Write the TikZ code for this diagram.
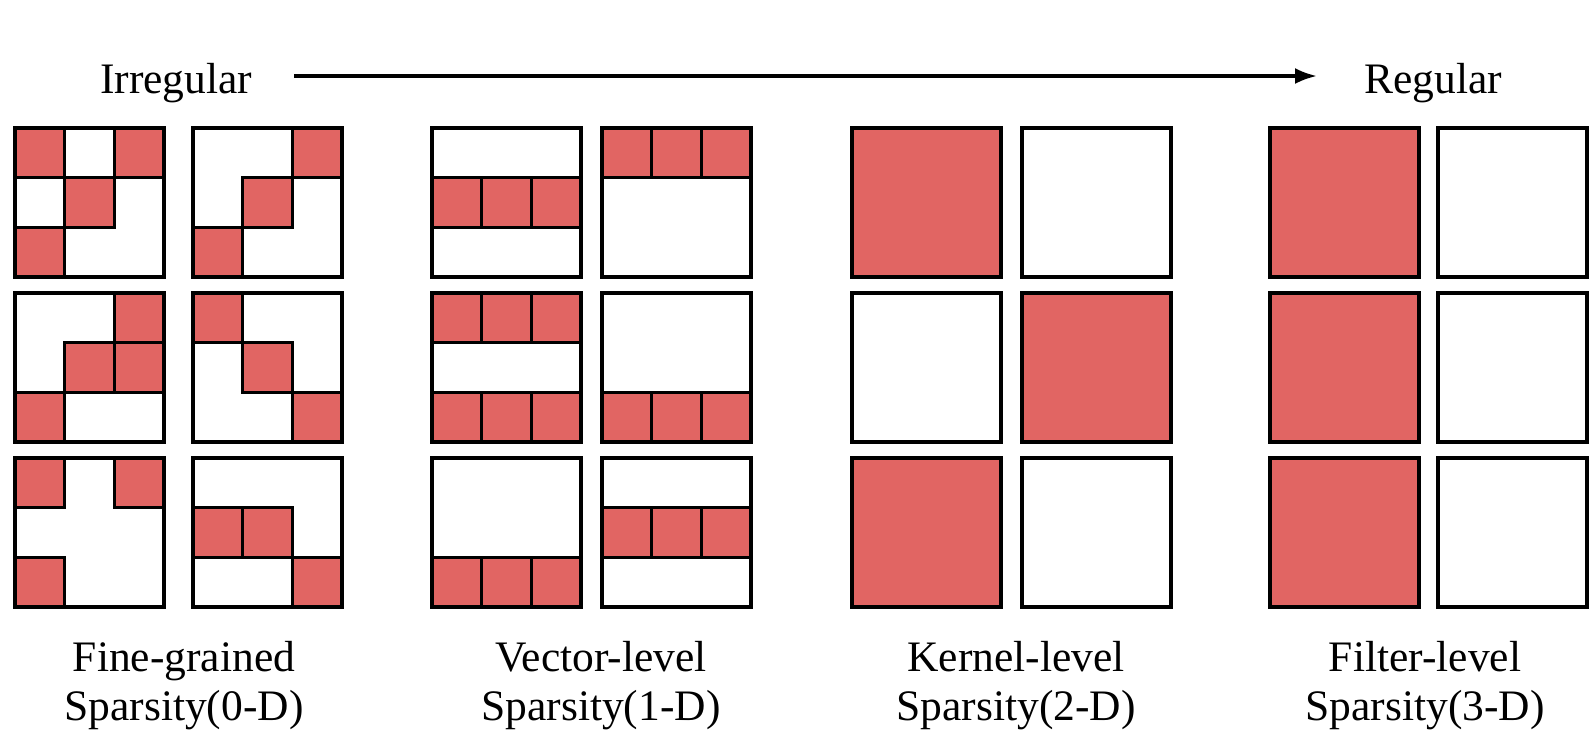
\documentclass[tikz,border=0pt]{standalone}
\usepackage{fontspec}
\setmainfont{Liberation Serif}
\usetikzlibrary{arrows.meta}
\definecolor{cellred}{RGB}{225,101,99}
\tikzset{
  lbl/.style={font=\fontsize{43.5}{43.5}\selectfont, inner sep=0pt, anchor=base},
  outerbox/.style={draw=black, line width=4.5pt},
  cellbox/.style={fill=cellred, draw=black, line width=2.8pt},
}
\newcommand{\gridbox}[3]{%
  \foreach \r/\c in {#3} {\path[cellbox] ({#1+\c*49.67},{#2+\r*49.67}) rectangle ++(49.67,49.67);}
  \draw[outerbox] (#1,#2) rectangle ++(149,149);
}
\newcommand{\solidbox}[3]{%
  \path[outerbox, fill=#3] (#1,#2) rectangle ++(149,149);
}
\begin{document}
\begin{tikzpicture}[x=1pt, y=-1pt]
\useasboundingbox[fill=white] (0,0) rectangle (1589,732);
% top arrow
\node[lbl, anchor=base west] (irr) at (100,93) {Irregular};
\node[lbl, anchor=base west] (reg) at (1364,93) {Regular};
\coordinate (a1) at (294,76);
\coordinate (a2) at (1317,76);
\draw[line width=3.5pt, -{Latex[length=22pt,width=16pt]}] (a1) -- (a2);
% Fine-grained
\gridbox{15}{128}{0/0,0/2,1/1,2/0}
\gridbox{193}{128}{0/2,1/1,2/0}
\gridbox{15}{293}{0/2,1/1,1/2,2/0}
\gridbox{193}{293}{0/0,1/1,2/2}
\gridbox{15}{458}{0/0,0/2,2/0}
\gridbox{193}{458}{1/0,1/1,2/2}
% Vector-level
\gridbox{432}{128}{1/0,1/1,1/2}
\gridbox{602}{128}{0/0,0/1,0/2}
\gridbox{432}{293}{0/0,0/1,0/2,2/0,2/1,2/2}
\gridbox{602}{293}{2/0,2/1,2/2}
\gridbox{432}{458}{2/0,2/1,2/2}
\gridbox{602}{458}{1/0,1/1,1/2}
% Kernel-level
\solidbox{852}{128}{cellred}
\solidbox{1022}{128}{white}
\solidbox{852}{293}{white}
\solidbox{1022}{293}{cellred}
\solidbox{852}{458}{cellred}
\solidbox{1022}{458}{white}
% Filter-level
\solidbox{1270}{128}{cellred}
\solidbox{1438}{128}{white}
\solidbox{1270}{293}{cellred}
\solidbox{1438}{293}{white}
\solidbox{1270}{458}{cellred}
\solidbox{1438}{458}{white}
% labels
\node[lbl] (f1) at (184,671) {Fine-grained};
\node[lbl] (f2) at (184,720) {Sparsity(0-D)};
\node[lbl] (v1) at (601,671) {Vector-level};
\node[lbl] (v2) at (601,720) {Sparsity(1-D)};
\node[lbl] (k1) at (1016,671) {Kernel-level};
\node[lbl] (k2) at (1016,720) {Sparsity(2-D)};
\node[lbl] (l1) at (1425,671) {Filter-level};
\node[lbl] (l2) at (1425,720) {Sparsity(3-D)};
\end{tikzpicture}
\end{document}
